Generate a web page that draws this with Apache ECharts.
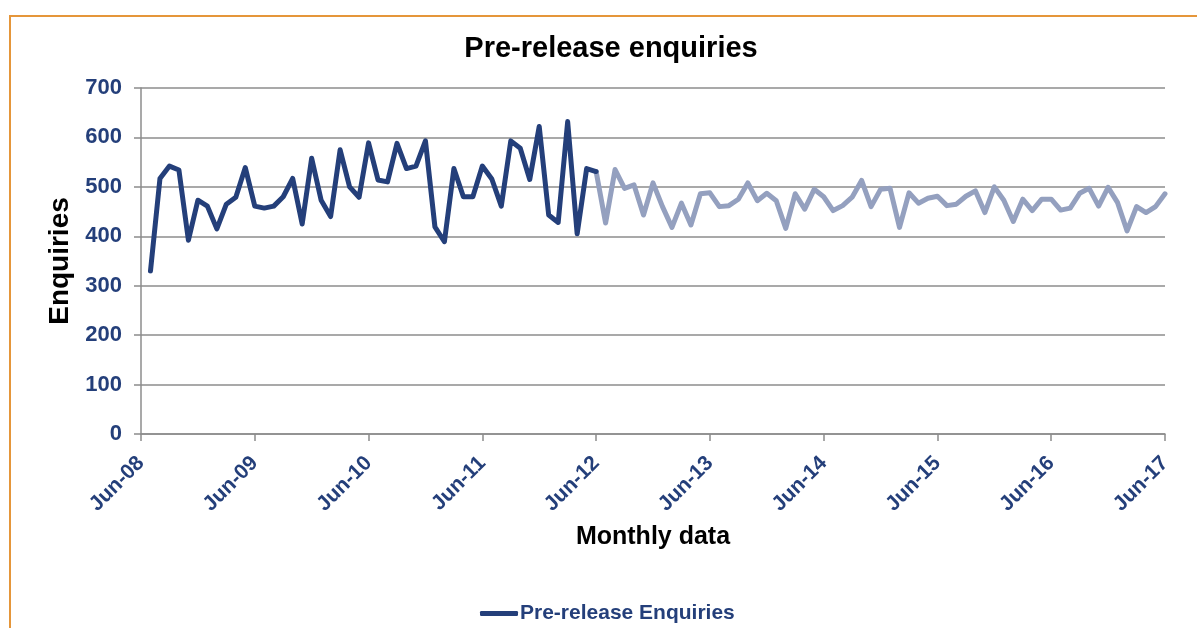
<!DOCTYPE html>
<html>
<head>
<meta charset="utf-8">
<title>Pre-release enquiries</title>
<script src="https://cdn.jsdelivr.net/npm/echarts@6/dist/echarts.min.js"></script>
<style>
  html, body { margin: 0; padding: 0; background: #ffffff; }
  #chart { width: 1197px; height: 628px; }
</style>
</head>
<body>
<div id="chart"></div>
<script>
// Monthly pre-release enquiries, Jul-08 .. Jun-12 (earlier period, dark line)
const enquiriesEarly = [
  330, 517, 542, 534, 392, 473,
  461, 415, 465, 479, 539, 461, 457, 461, 480, 517, 425, 558,
  473, 440, 575, 500, 479, 589, 514, 510, 588, 537, 542, 593,
  419, 389, 537, 480, 480, 542, 516, 461, 593, 578, 515, 622,
  443, 428, 632, 405, 537, 531
];

// Monthly pre-release enquiries, Jul-12 .. Jun-17 (later period, light line)
const enquiriesLate = [
  427, 535, 497, 504, 443, 508,
  460, 418, 467, 423, 486, 488, 460, 462, 475, 508, 472, 487,
  472, 416, 486, 455, 495, 480, 452, 462, 479, 513, 460, 495,
  497, 418, 488, 467, 477, 481, 462, 465, 481, 492, 448, 500,
  473, 430, 475, 452, 475, 475, 453, 457, 487, 497, 461, 499,
  468, 411, 460, 448, 460, 486
];

// Axis tick labels (every June)
const tickLabels = ['Jun-08', 'Jun-09', 'Jun-10', 'Jun-11', 'Jun-12', 'Jun-13', 'Jun-14', 'Jun-15', 'Jun-16', 'Jun-17'];
const yTicks = [0, 100, 200, 300, 400, 500, 600, 700];

// Month categories from Jun-08 to Jun-17
const monthNames = ['Jan', 'Feb', 'Mar', 'Apr', 'May', 'Jun', 'Jul', 'Aug', 'Sep', 'Oct', 'Nov', 'Dec'];
const months = [];
for (let y = 8, m = 5; y < 17 || (y === 17 && m <= 5); ) {
  months.push(monthNames[m] + '-' + String(y).padStart(2, '0'));
  m++;
  if (m === 12) { m = 0; y++; }
}

// Series arrays aligned with the month categories
const earlyData = [null].concat(enquiriesEarly, new Array(enquiriesLate.length).fill(null));
const lateData = new Array(enquiriesEarly.length).fill(null)
  .concat([enquiriesEarly[enquiriesEarly.length - 1]], enquiriesLate);

const DARK = '#243F7A';
const LIGHT = '#94A0BF';
const GRID = '#8C8C8C';
const FONT = '"Liberation Sans", Arial, sans-serif';

const chart = echarts.init(document.getElementById('chart'), null, { renderer: 'canvas' });

chart.setOption({
  backgroundColor: '#ffffff',
  animation: false,
  textStyle: { fontFamily: FONT },
  title: {
    text: 'Pre-release enquiries',
    left: 606,
    top: 29,
    textAlign: 'center',
    textStyle: { fontFamily: FONT, fontSize: 29, fontWeight: 'bold', color: '#000000' }
  },
  graphic: [{
    type: 'rect',
    shape: { x: 10, y: 16, width: 1400, height: 800 },
    style: { fill: 'none', stroke: '#E5963A', lineWidth: 2 },
    silent: true
  }],
  legend: {
    data: ['Pre-release Enquiries'],
    left: 475,
    top: 598,
    icon: 'roundRect',
    itemWidth: 38,
    itemHeight: 5,
    itemGap: 10,
    textStyle: { fontFamily: FONT, fontSize: 21, fontWeight: 'bold', color: DARK, padding: [0, 0, 0, -3] }
  },
  grid: { left: 141, right: 32, top: 88, bottom: 194, containLabel: false },
  xAxis: {
    type: 'category',
    data: months,
    boundaryGap: false,
    name: 'Monthly data',
    nameLocation: 'middle',
    nameGap: 91,
    nameTextStyle: { fontFamily: FONT, fontSize: 25, fontWeight: 'bold', color: '#000000' },
    axisLine: { show: true, lineStyle: { color: GRID, width: 1.5 } },
    axisTick: { show: true, interval: 11, length: 7, lineStyle: { color: GRID, width: 1.5 } },
    axisLabel: {
      interval: 11,
      rotate: 45,
      margin: 26,
      fontFamily: FONT,
      fontSize: 21,
      fontWeight: 'bold',
      color: DARK,
      formatter: function (v) { return tickLabels.indexOf(v) >= 0 ? v : ''; }
    },
    splitLine: { show: false }
  },
  yAxis: {
    type: 'value',
    min: yTicks[0],
    max: yTicks[yTicks.length - 1],
    interval: 100,
    name: 'Enquiries',
    nameLocation: 'middle',
    nameGap: 61,
    nameRotate: 90,
    nameTextStyle: { fontFamily: FONT, fontSize: 28, fontWeight: 'bold', color: '#000000' },
    axisLine: { show: true, lineStyle: { color: GRID, width: 1.5 } },
    axisTick: { show: true, length: 7, lineStyle: { color: GRID, width: 1.5 } },
    axisLabel: {
      margin: 19,
      fontFamily: FONT,
      fontSize: 22,
      fontWeight: 'bold',
      color: DARK
    },
    splitLine: { show: true, lineStyle: { color: GRID, width: 1.5 } }
  },
  series: [
    {
      name: 'Pre-release Enquiries (recent)',
      type: 'line',
      data: lateData,
      symbol: 'none',
      connectNulls: false,
      lineStyle: { color: LIGHT, width: 5, join: 'round', cap: 'round' },
      itemStyle: { color: LIGHT },
      z: 2
    },
    {
      name: 'Pre-release Enquiries',
      type: 'line',
      data: earlyData,
      symbol: 'none',
      connectNulls: false,
      lineStyle: { color: DARK, width: 5, join: 'round', cap: 'round' },
      itemStyle: { color: DARK },
      z: 3
    }
  ]
});
</script>
</body>
</html>
